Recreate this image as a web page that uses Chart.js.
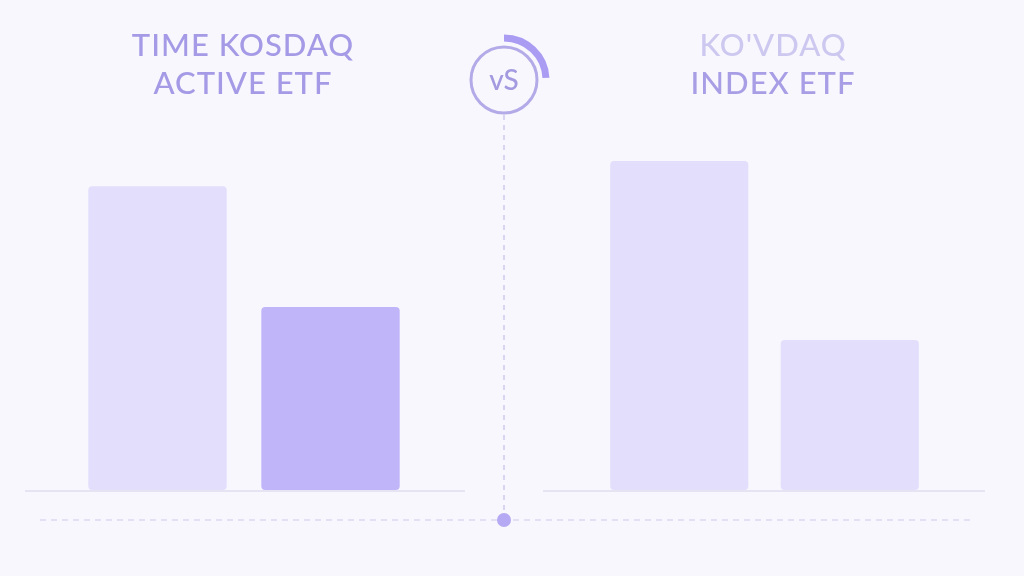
<!DOCTYPE html>
<html>
<head>
<meta charset="utf-8">
<script src="https://cdn.jsdelivr.net/npm/chart.js@4"></script>
<style>
  html, body { margin: 0; padding: 0; background: #f8f7fd; }
  #wrap { position: relative; width: 1024px; height: 576px; overflow: hidden; }
  #wrap canvas { position: absolute; left: 0; top: 0; }
</style>
</head>
<body>
<div id="wrap">
  <canvas id="leftChart" width="1024" height="576"></canvas>
  <canvas id="rightChart" width="1024" height="576"></canvas>
</div>
<script>
// data (relative heights, no axis shown in the picture)
const leftTitle = ["TIME KOSDAQ", "ACTIVE ETF"];
const rightTitle = ["KO'VDAQ", "INDEX ETF"];
const leftLabels = ["Bar A", "Bar B"];
const rightLabels = ["Bar A", "Bar B"];
const leftValues = [84.4, 50.8];
const rightValues = [91.4, 41.7];
const yMin = 0;
const yMax = 100;

const lightBar = '#e2defc';
const darkBar = '#c0b5f9';

// baseline under each group + title text
function panelPlugin(title, colors, lineFrom, lineTo, centerX) {
    return {
        id: 'panel',
        beforeDatasetsDraw(chart) {
            const ctx = chart.ctx;
            const y0 = chart.scales.y.getPixelForValue(0);
            ctx.save();
            ctx.strokeStyle = '#e6e3f3';
            ctx.lineWidth = 2;
            ctx.beginPath();
            ctx.moveTo(lineFrom, y0 + 1);
            ctx.lineTo(lineTo, y0 + 1);
            ctx.stroke();
            ctx.restore();
        },
        afterDraw(chart) {
            const ctx = chart.ctx;
            ctx.save();
            ctx.font = '500 31px Lato';
            ctx.letterSpacing = '1px';
            ctx.textAlign = 'center';
            ctx.textBaseline = 'middle';
            ctx.fillStyle = colors[0];
            ctx.fillText(title[0], centerX, 46);
            ctx.fillStyle = colors[1];
            ctx.fillText(title[1], centerX, 84);
            ctx.restore();
        }
    };
}

// vs badge, dashed divider and bottom dashed line
const vsPlugin = {
    id: 'vsBadge',
    beforeDraw(chart) {
        const ctx = chart.ctx;
        const cx = 504;
        ctx.save();
        ctx.setLineDash([6, 5]);
        ctx.strokeStyle = '#dcd8f2';
        ctx.lineWidth = 1.5;
        ctx.beginPath();
        ctx.moveTo(40, 520);
        ctx.lineTo(970, 520);
        ctx.stroke();

        ctx.strokeStyle = '#cfc9ef';
        ctx.setLineDash([5, 5]);
        ctx.beginPath();
        ctx.moveTo(cx, 115);
        ctx.lineTo(cx, 512);
        ctx.stroke();
        ctx.setLineDash([]);

        ctx.fillStyle = '#b4a9f2';
        ctx.beginPath();
        ctx.arc(cx, 520, 7, 0, Math.PI * 2);
        ctx.fill();

        ctx.strokeStyle = '#b3aae8';
        ctx.lineWidth = 3;
        ctx.beginPath();
        ctx.arc(cx, 80, 33, 0, Math.PI * 2);
        ctx.stroke();

        ctx.strokeStyle = '#a99cf2';
        ctx.lineWidth = 7;
        ctx.beginPath();
        ctx.arc(cx, 80, 42, -Math.PI / 2, -0.05);
        ctx.stroke();

        ctx.fillStyle = '#a39ae0';
        ctx.font = '500 28px Lato';
        ctx.textAlign = 'center';
        ctx.textBaseline = 'middle';
        ctx.fillText('vS', cx, 81);
        ctx.restore();
    }
};

function makeOptions(padLeft, padRight) {
    return {
        responsive: false,
        animation: false,
        layout: { padding: { left: padLeft, right: padRight, top: 130, bottom: 86 } },
        scales: {
            x: { display: false },
            y: { display: false, min: yMin, max: yMax }
        },
        plugins: { legend: { display: false }, tooltip: { enabled: false } }
    };
}

new Chart(document.getElementById('leftChart').getContext('2d'), {
    type: 'bar',
    data: {
        labels: leftLabels,
        datasets: [{
            data: leftValues,
            backgroundColor: [lightBar, darkBar],
            borderRadius: 4,
            borderSkipped: false,
            categoryPercentage: 1,
            barPercentage: 0.8
        }]
    },
    options: makeOptions(71, 607),
    plugins: [vsPlugin, panelPlugin(leftTitle, ['#a49ae6', '#a49ae6'], 25, 465, 243)]
});

new Chart(document.getElementById('rightChart').getContext('2d'), {
    type: 'bar',
    data: {
        labels: rightLabels,
        datasets: [{
            data: rightValues,
            backgroundColor: [lightBar, lightBar],
            borderRadius: 4,
            borderSkipped: false,
            categoryPercentage: 1,
            barPercentage: 0.81
        }]
    },
    options: makeOptions(594, 89),
    plugins: [panelPlugin(rightTitle, ['#cdc8f0', '#a89ee6'], 543, 985, 773)]
});
</script>
</body>
</html>
